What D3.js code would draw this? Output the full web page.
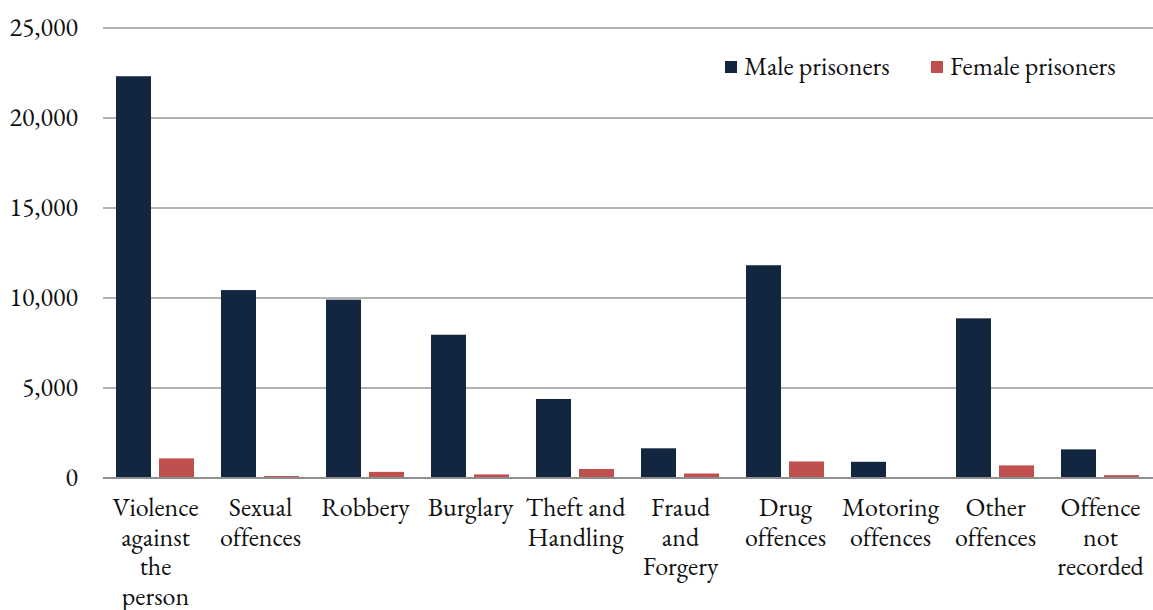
<!DOCTYPE html>
<html><head><meta charset="utf-8">
<script src="https://cdn.jsdelivr.net/npm/d3@7"></script>
<style>body{margin:0;background:#fff;} svg{display:block;} text{font-variant-ligatures:none;}</style>
</head><body>
<svg id="c" width="1153" height="610"></svg>
<script>
const categories = [
  ["Violence","against","the","person"],
  ["Sexual","offences"],
  ["Robbery"],
  ["Burglary"],
  ["Theft and","Handling"],
  ["Fraud","and","Forgery"],
  ["Drug","offences"],
  ["Motoring","offences"],
  ["Other","offences"],
  ["Offence","not","recorded"]
];
const maleValues   = [22320, 10440, 9910, 7960, 4390, 1650, 11820, 900, 8870, 1590];
const femaleValues = [1090, 110, 340, 200, 500, 250, 920, 15, 700, 160];
const seriesNames = ["Male prisoners","Female prisoners"];
const seriesColors = ["#12263f","#c0504d"];
const yTicks = [0,5000,10000,15000,20000,25000];

(function(){
const FONT = "'EB Garamond', 'Liberation Serif', serif";
const FS = 26;
const svg = d3.select("#c");
const pLeft = 103, pRight = 1153, pTop = 28, pBottom = 478;

const x = d3.scaleBand().domain(d3.range(categories.length)).range([pLeft, pRight]);
const x1 = d3.scaleBand().domain([0,1]).range([13, 91]).paddingInner(0.186);
const y = d3.scaleLinear().domain([0,25000]).range([pBottom, pTop]);

svg.append("g").selectAll("line").data(yTicks.filter(d=>d>0)).join("line")
  .attr("x1", pLeft).attr("x2", pRight)
  .attr("y1", d=>y(d)).attr("y2", d=>y(d))
  .attr("stroke","#989898").attr("stroke-width",1.3);

const fmt = d3.format(",");
svg.append("g").selectAll("text").data(yTicks).join("text")
  .attr("x", 78).attr("y", d=>y(d)+8)
  .attr("text-anchor","end")
  .style("font-family", FONT).style("font-size", FS+"px").attr("fill","#111")
  .text(d=>fmt(d));

const g = svg.append("g");
categories.forEach((c,i)=>{
  [maleValues[i], femaleValues[i]].forEach((v,s)=>{
    g.append("rect")
      .attr("x", x(i)+x1(s))
      .attr("y", y(v))
      .attr("width", x1.bandwidth())
      .attr("height", pBottom - y(v))
      .attr("fill", seriesColors[s]);
  });
});

svg.append("line").attr("x1",pLeft).attr("x2",pRight).attr("y1",pBottom).attr("y2",pBottom)
  .attr("stroke","#8f8f8f").attr("stroke-width",2.2);

const cl = svg.append("g");
categories.forEach((lines,i)=>{
  const cx = x(i)+x.bandwidth()/2;
  const t = cl.append("text")
    .attr("text-anchor","middle")
    .style("font-family", FONT).style("font-size", FS+"px").attr("fill","#111");
  lines.forEach((ln,k)=>{
    t.append("tspan").attr("x", cx).attr("y", 516 + k*29.7).text(ln);
  });
});

const legX = [725, 931];
seriesNames.forEach((n,s)=>{
  svg.append("rect").attr("x", legX[s]).attr("y", 61).attr("width", 12).attr("height", 12)
    .attr("fill", seriesColors[s]);
  svg.append("text").attr("x", legX[s]+19).attr("y", 75)
    .style("font-family", FONT).style("font-size", FS+"px").attr("fill","#111").text(n);
});
})();
</script>
</body></html>
